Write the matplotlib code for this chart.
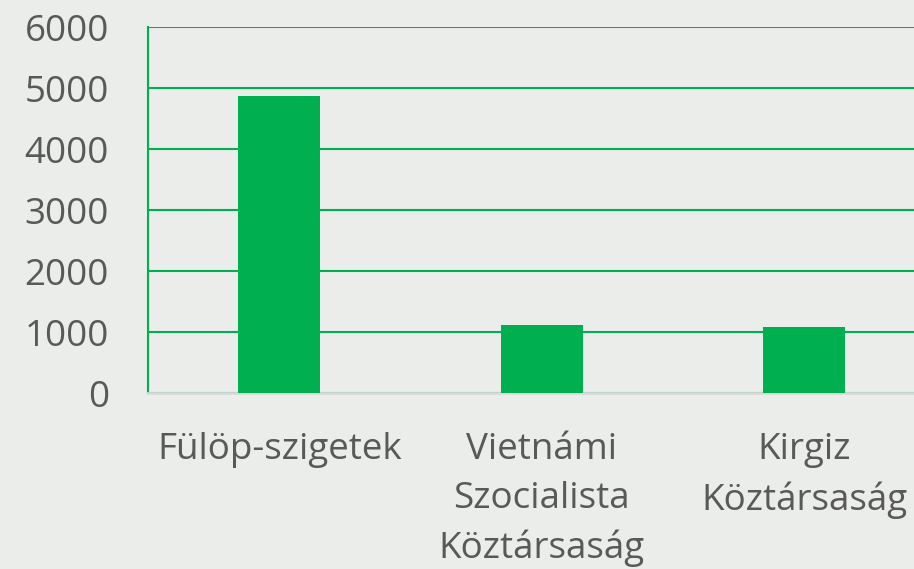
import matplotlib.pyplot as plt

categories = ['Fülöp-szigetek', 'Vietnámi\nSzocialista\nKöztársaság', 'Kirgiz\nKöztársaság']
values = [4870, 1110, 1080]
y_ticks = [0, 1000, 2000, 3000, 4000, 5000, 6000]

green = '#00B050'
bg = '#EBEDEA'
txt = '#595959'

plt.rcParams['font.family'] = ['Open Sans', 'DejaVu Sans']

fig = plt.figure(figsize=(9.14, 5.69), dpi=100, facecolor=bg)
# plot area runs past the right edge of the picture
ax = fig.add_axes([0.1619, 0.3093, 0.8616, 0.6432])
ax.set_facecolor(bg)

x = range(len(categories))
ax.bar(x, values, width=0.312, color=green, zorder=3)

ax.set_xlim(-0.5, len(categories) - 0.5)
ax.set_ylim(0, 6000)
ax.set_yticks(y_ticks)
ax.set_yticklabels([str(t) for t in y_ticks])
ax.set_xticks(list(x))
ax.set_xticklabels(categories, linespacing=1.47)

ax.grid(axis='y', color=green, linewidth=1.5, zorder=1)
ax.tick_params(axis='both', length=0, labelsize=26.5, labelcolor=txt)
ax.tick_params(axis='y', pad=28)
ax.tick_params(axis='x', pad=28)

for s in ['top', 'right']:
    ax.spines[s].set_visible(False)
ax.spines['left'].set_color(green)
ax.spines['left'].set_linewidth(1.5)
ax.spines['bottom'].set_color('#D9D9D9')
ax.spines['bottom'].set_linewidth(2)

plt.savefig('out.png', dpi=100, facecolor=bg)
